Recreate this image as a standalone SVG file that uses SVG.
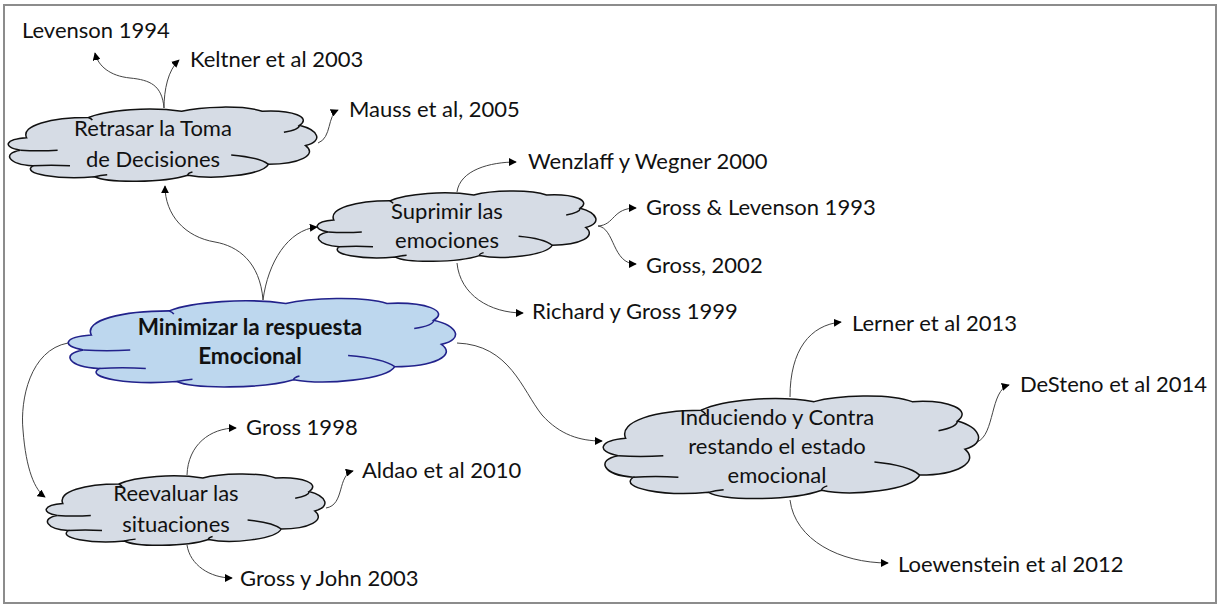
<svg xmlns="http://www.w3.org/2000/svg" xmlns:xlink="http://www.w3.org/1999/xlink" width="1220" height="606" viewBox="0 0 1220 606">
<style>
.t{font-family:Lato,"Liberation Sans",sans-serif;font-size:22px;fill:#111}
.c{text-anchor:middle}
.b{font-weight:bold;font-size:22.5px}
.cl{fill:#d6dce5;stroke:#111;stroke-width:1.5}
.cm{fill:#bdd7ee;stroke:#22228b;stroke-width:1.6}
.cr{fill:none;stroke-width:1.5}
.e{fill:none;stroke:#444;stroke-width:1;marker-end:url(#ah)}
</style>
<defs>
<marker id="ah" viewBox="0 0 10 10" refX="9" refY="5" markerWidth="8" markerHeight="8" markerUnits="userSpaceOnUse" orient="auto">
<path d="M0,0 L10,5 L0,10 Z" fill="#000"/>
</marker>
<path id="cloud" vector-effect="non-scaling-stroke" d="M6,42 C4,26 14,16 26,16 C32,6 46,2 56,8 C62,2 76,0 82,8 C92,6 98,16 94,26 C100,32 102,46 96,52 C100,64 94,76 84,76 C82,90 66,96 58,90 C50,100 32,100 28,92 C16,96 4,88 8,78 C0,76 -2,62 4,58 C-2,54 -1,44 6,42 Z"/>
<path id="crease" vector-effect="non-scaling-stroke" d="M4,58 C8,59 12,59 16,58 M26,16 C26.5,17 27,18 27.2,19.5 M94,26 C94,30 92,33 89,35 M84,76 C82,70 78,66 72,64 M58,90 C58,88 58.5,87 59.5,86 M28,92 C29,91 30.5,90 32,89.5 M8,78 C12,77 16,77 20,78"/>
</defs>
<rect x="4" y="5" width="1212" height="598" fill="#fff" stroke="#8c8c8c" stroke-width="2"/>

<g id="connectors">
<path class="e" d="M263,300 C260,262 238,246 215,242 C185,237 165,215 165,186"/>
<path class="e" d="M263,300 C268,262 288,230 317,227"/>
<path class="e" d="M68,343 C30,350 20,400 23,430 C26,470 35,490 45,497"/>
<path class="e" d="M457,343 C510,345 522,390 542,415 C560,435 580,441 602,441"/>
<path class="e" d="M164,108 C162,85 150,80 130,78 C110,76 98,66 95,53"/>
<path class="e" d="M164,108 C164,90 168,70 179,60"/>
<path class="e" d="M318,143 C332,138 327,115 338,110"/>
<path class="e" d="M457,192 C460,170 490,162 516,162"/>
<path class="e" d="M598,226 C615,225 612,208 636,208"/>
<path class="e" d="M598,226 C615,228 612,264 636,264"/>
<path class="e" d="M457,263 C460,295 490,313 523,313"/>
<path class="e" d="M790,397 C790,350 810,325 841,322"/>
<path class="e" d="M977,442 C995,435 990,390 1009,385"/>
<path class="e" d="M790,500 C795,540 840,563 888,563"/>
<path class="e" d="M187,475 C188,445 210,428 236,428"/>
<path class="e" d="M326,508 C345,505 337,475 353,471"/>
<path class="e" d="M187,545 C190,565 210,578 232,578"/>
</g>

<g id="n-retrasar">
<use xlink:href="#cloud" class="cl" transform="translate(8,105) scale(3.1,0.78)"/>
<use xlink:href="#crease" class="cr" stroke="#111" transform="translate(8,105) scale(3.1,0.78)"/>
<text class="t c" x="153" y="136">Retrasar la Toma</text>
<text class="t c" x="153" y="167">de Decisiones</text>
</g>

<g id="n-suprimir">
<use xlink:href="#cloud" class="cl" transform="translate(317,189) scale(2.8,0.74)"/>
<use xlink:href="#crease" class="cr" stroke="#111" transform="translate(317,189) scale(2.8,0.74)"/>
<text class="t c" x="447" y="219">Suprimir las</text>
<text class="t c" x="447" y="248">emociones</text>
</g>

<g id="n-minimizar">
<use xlink:href="#cloud" class="cm" transform="translate(68,296) scale(3.89,0.93)"/>
<use xlink:href="#crease" class="cr" stroke="#22228b" transform="translate(68,296) scale(3.89,0.93)"/>
<text class="t c b" x="250" y="335">Minimizar la respuesta</text>
<text class="t c b" x="250" y="364">Emocional</text>
</g>

<g id="n-reevaluar">
<use xlink:href="#cloud" class="cl" transform="translate(46,472) scale(2.8,0.75)"/>
<use xlink:href="#crease" class="cr" stroke="#111" transform="translate(46,472) scale(2.8,0.75)"/>
<text class="t c" x="176" y="501">Reevaluar las</text>
<text class="t c" x="176" y="532">situaciones</text>
</g>

<g id="n-induciendo">
<use xlink:href="#cloud" class="cl" transform="translate(603,393) scale(3.77,1.08)"/>
<use xlink:href="#crease" class="cr" stroke="#111" transform="translate(603,393) scale(3.77,1.08)"/>
<text class="t c" x="777" y="425">Induciendo y Contra</text>
<text class="t c" x="777" y="454">restando el estado</text>
<text class="t c" x="777" y="483">emocional</text>
</g>

<g id="refs">
<text class="t" x="22" y="38">Levenson 1994</text>
<text class="t" x="190" y="67">Keltner et al 2003</text>
<text class="t" x="349" y="117">Mauss et al, 2005</text>
<text class="t" x="528" y="169">Wenzlaff y Wegner 2000</text>
<text class="t" x="646" y="215">Gross &amp; Levenson 1993</text>
<text class="t" x="646" y="273">Gross, 2002</text>
<text class="t" x="532" y="319">Richard y Gross 1999</text>
<text class="t" x="852" y="331">Lerner et al 2013</text>
<text class="t" x="1020" y="392">DeSteno et al 2014</text>
<text class="t" x="898" y="572">Loewenstein et al 2012</text>
<text class="t" x="246" y="435">Gross 1998</text>
<text class="t" x="362" y="478">Aldao et al 2010</text>
<text class="t" x="240" y="586">Gross y John 2003</text>
</g>
</svg>
